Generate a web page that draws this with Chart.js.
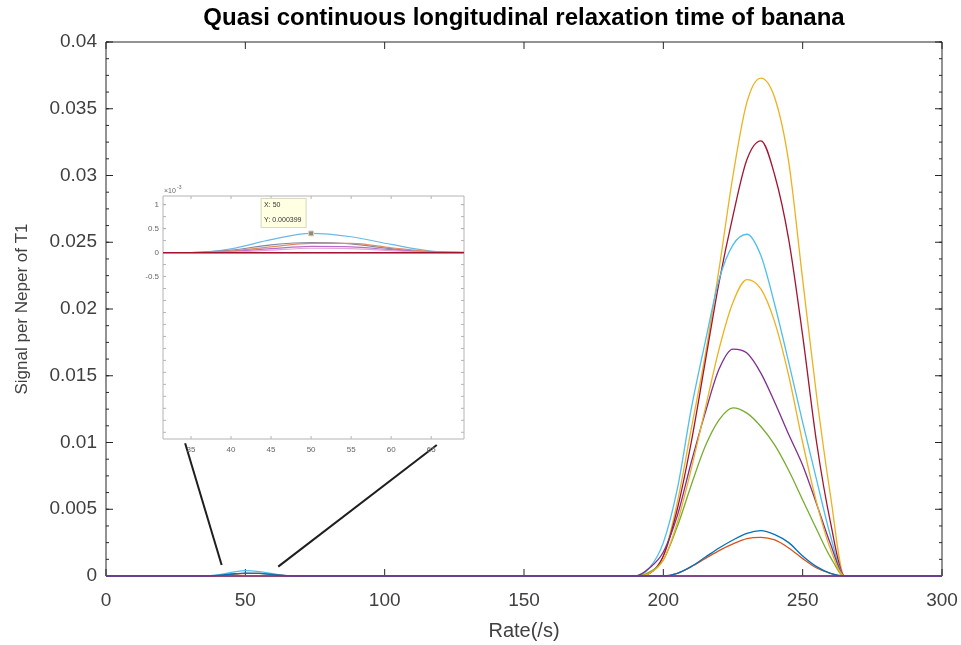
<!DOCTYPE html>
<html>
<head>
<meta charset="utf-8">
<script src="https://cdn.jsdelivr.net/npm/chart.js@4.4.1/dist/chart.umd.min.js"></script>
<style>
  html, body { margin: 0; padding: 0; background: #fff; }
  #wrap { position: relative; width: 961px; height: 645px; }
  #mainChart { position: absolute; left: 0; top: 0; }
  #insetChart { position: absolute; left: 140px; top: 185px; }
</style>
</head>
<body>
<div id="wrap">
  <canvas id="mainChart" width="961" height="645"></canvas>
  <canvas id="insetChart" width="340" height="280"></canvas>
</div>
<script>
/* ====== 主图数据 ====== */
const rateMain = [0, 35, 40, 45, 50, 55, 60, 65, 70, 190, 195, 200, 205, 210, 215, 220, 225, 230, 235, 240, 245, 250, 255, 260, 265, 300];
const sigBlue      = [0, 0, 0.00004, 0.00015, 0.00022, 0.00019, 0.0001, 0.00002, 0, 0, 0, 0, 0.0002, 0.0007, 0.0014, 0.0021, 0.0027, 0.0032, 0.0034, 0.0031, 0.0025, 0.0015, 0.0007, 0.0002, 0, 0];
const sigOrange    = [0, 0, 0.00003, 0.00012, 0.0002, 0.00019, 0.0001, 0.00002, 0, 0, 0, 0, 0.0002, 0.0007, 0.0013, 0.0019, 0.0024, 0.0028, 0.0029, 0.0027, 0.0021, 0.0013, 0.0006, 0.0002, 0, 0];
const sigYellow    = [0, 0, 0, 0, 0, 0, 0, 0, 0, 0, 0.0002, 0.0012, 0.0040, 0.0080, 0.0125, 0.0170, 0.0205, 0.0222, 0.0215, 0.0190, 0.0150, 0.0100, 0.0055, 0.0020, 0, 0];
const sigPurple    = [0, 0, 0, 0, 0, 0, 0, 0, 0, 0, 0.0006, 0.0018, 0.0045, 0.0085, 0.0122, 0.0155, 0.0170, 0.0167, 0.0152, 0.0130, 0.0106, 0.0083, 0.0054, 0.0024, 0, 0];
const sigGreen     = [0, 0, 0, 0, 0, 0, 0, 0, 0, 0, 0.0003, 0.0012, 0.0037, 0.0068, 0.0097, 0.0117, 0.0126, 0.0122, 0.0112, 0.0098, 0.0079, 0.0057, 0.0035, 0.0014, 0, 0];
const sigLightBlue = [0, 0, 0.00008, 0.00027, 0.0004, 0.00033, 0.00017, 0.00003, 0, 0, 0.0006, 0.0025, 0.0065, 0.0125, 0.0175, 0.0222, 0.0248, 0.0256, 0.0240, 0.0203, 0.0160, 0.0115, 0.0072, 0.0030, 0, 0];
const sigDarkRed   = [0, 0, 0, 0, 0, 0, 0, 0, 0, 0, 0.0002, 0.0015, 0.0050, 0.0100, 0.0160, 0.0220, 0.0270, 0.0312, 0.0326, 0.0300, 0.0252, 0.0180, 0.0100, 0.0040, 0, 0];
const sigGold      = [0, 0, 0, 0, 0, 0, 0, 0, 0, 0, 0.0002, 0.0015, 0.0055, 0.0110, 0.0165, 0.0230, 0.0300, 0.0355, 0.0373, 0.0358, 0.0310, 0.0222, 0.0135, 0.0060, 0, 0];
const sigBase      = [0, 0, 0, 0, 0, 0, 0, 0, 0, 0, 0, 0, 0, 0, 0, 0, 0, 0, 0, 0, 0, 0, 0, 0, 0, 0];

// 放大框的两条引线（数据坐标）
const connectorLeft  = [{ x: 41.5, y: 0.00082 }, { x: 28.4, y: 0.00994 }];
const connectorRight = [{ x: 61.8, y: 0.0007 }, { x: 118.7, y: 0.00981 }];

const xTicksMain = [0, 50, 100, 150, 200, 250, 300];

/* ====== 放大图数据 ====== */
const insetRate      = [30, 35, 40, 45, 50, 55, 60, 65, 70];
const insetLightBlue = [0, 0, 0.00008, 0.00027, 0.0004, 0.00033, 0.00017, 0.00003, 0];
const insetSlate     = [0, 0, 0.00005, 0.00016, 0.00021, 0.00018, 0.00008, 0.00001, 0];
const insetSalmon    = [0, 0, 0.00003, 0.00012, 0.00019, 0.00019, 0.0001, 0.00002, 0];
const insetViolet    = [0, 0, 0.00002, 0.00008, 0.00013, 0.00012, 0.00006, 0.00001, 0];
const insetPink      = [0, 0, 0.00001, 0.00005, 0.00009, 0.00008, 0.00004, 0, 0];
const insetRed       = [0, 0, 0, 0, 0, 0, 0, 0, 0];
const insetGold      = [-0.00002, -0.00002, -0.00002, -0.00002, -0.00002, -0.00002, -0.00002, -0.00002, -0.00002];
const insetXTicks = [35, 40, 45, 50, 55, 60, 65];
const insetYTicks = [1, 0.5, 0, -0.5]; // ×10^-3
const tipX = 50, tipY = 0.000399;

const FONT = '"Liberation Sans", Arial, Helvetica, sans-serif';
const pts = (xs, ys) => xs.map((v, i) => ({ x: v, y: ys[i] }));
// 固定坐标轴占位，去掉标签外溢的自动留白
const fixAxis = (size) => (s) => {
  if (s.isHorizontal()) s.height = size; else s.width = size;
  s.paddingLeft = s.paddingRight = s.paddingTop = s.paddingBottom = 0;
};

/* ====== 坐标框 + 内向刻度 ====== */
const boxTicks = {
  id: 'boxTicks',
  beforeDatasetsDraw(chart, args, o) {
    const { ctx, chartArea: a, scales: { x, y } } = chart;
    ctx.save();
    ctx.strokeStyle = o.color;
    ctx.lineWidth = o.width;
    ctx.beginPath();
    const seg = (x1, y1, x2, y2) => { ctx.moveTo(x1, y1); ctx.lineTo(x2, y2); };
    x.ticks.forEach(t => {
      const p = x.getPixelForValue(t.value);
      seg(p, a.bottom, p, a.bottom - o.len);
      seg(p, a.top, p, a.top + o.len);
    });
    y.ticks.forEach(t => {
      const p = y.getPixelForValue(t.value);
      seg(a.left, p, a.left + o.len, p);
      seg(a.right, p, a.right - o.len, p);
    });
    if (o.yMinor) {
      const first = Math.ceil(y.min / o.yMinor - 1e-6);
      const last = Math.floor(y.max / o.yMinor + 1e-6);
      for (let i = first; i <= last; i++) {
        const p = y.getPixelForValue(i * o.yMinor);
        seg(a.left, p, a.left + o.minorLen, p);
        seg(a.right, p, a.right - o.minorLen, p);
      }
    }
    ctx.rect(a.left, a.top, a.right - a.left, a.bottom - a.top);
    ctx.stroke();
    ctx.restore();
  }
};

/* ====== 数据提示框 + 指数标注 ====== */
const insetNotes = {
  id: 'insetNotes',
  afterDatasetsDraw(chart, args, o) {
    const { ctx, chartArea: a, scales: { x, y } } = chart;
    const px = x.getPixelForValue(o.tipX), py = y.getPixelForValue(o.tipY);
    ctx.save();
    ctx.fillStyle = '#ffffe1';
    ctx.strokeStyle = '#d8d8c0';
    ctx.lineWidth = 1;
    ctx.fillRect(px - 50, py - 35, 45, 29);
    ctx.strokeRect(px - 50, py - 35, 45, 29);
    ctx.fillStyle = '#333';
    ctx.font = `7px ${FONT}`;
    ctx.textBaseline = 'middle';
    ctx.fillText(o.lines[0], px - 47, py - 28);
    ctx.fillText(o.lines[1], px - 47, py - 13);
    // ×10^-3
    ctx.fillStyle = '#666';
    ctx.textBaseline = 'alphabetic';
    ctx.font = `7px ${FONT}`;
    ctx.fillText('×10', a.left + 1, a.top - 3);
    ctx.font = `5px ${FONT}`;
    ctx.fillText('-3', a.left + 14, a.top - 7);
    ctx.restore();
  }
};

/* ====== 主图 ====== */
const lineSet = (data, color, order) => ({
  data, borderColor: color, backgroundColor: color, borderWidth: 1.3,
  pointRadius: 0, cubicInterpolationMode: 'monotone', clip: false, order,
});

new Chart(document.getElementById('mainChart'), {
  type: 'line',
  data: {
    datasets: [
      lineSet(pts(rateMain, sigBase), '#7E2F8E', 0),
      lineSet(pts(rateMain, sigBlue), '#0072BD', 1),
      lineSet(pts(rateMain, sigOrange), '#D95319', 2),
      lineSet(pts(rateMain, sigYellow), '#EDB120', 3),
      lineSet(pts(rateMain, sigPurple), '#7E2F8E', 4),
      lineSet(pts(rateMain, sigGreen), '#77AC30', 5),
      lineSet(pts(rateMain, sigLightBlue), '#4DBEEE', 6),
      lineSet(pts(rateMain, sigDarkRed), '#A2142F', 7),
      lineSet(pts(rateMain, sigGold), '#EDB120', 8),
      { data: connectorLeft, borderColor: '#1e1e1e', borderWidth: 2, pointRadius: 0, tension: 0, clip: false, order: -1 },
      { data: connectorRight, borderColor: '#1e1e1e', borderWidth: 2, pointRadius: 0, tension: 0, clip: false, order: -1 },
    ],
  },
  options: {
    responsive: false,
    animation: false,
    layout: { autoPadding: false, padding: { left: 0, right: 19, top: 0, bottom: 0 } },
    plugins: {
      legend: { display: false },
      tooltip: { enabled: false },
      title: {
        display: true,
        fullSize: false,
        text: 'Quasi continuous longitudinal relaxation time of banana',
        color: '#000',
        font: { family: FONT, size: 24, weight: 'bold' },
        padding: { top: 4, bottom: 9.2 },
      },
      boxTicks: { color: '#262626', width: 1, len: 7, yMinor: 0.00125, minorLen: 3 },
    },
    scales: {
      x: {
        type: 'linear', min: 0, max: 300,
        afterBuildTicks: (s) => { s.ticks = xTicksMain.map((v) => ({ value: v })); },
        afterFit: fixAxis(69),
        grid: { display: false, drawTicks: false },
        border: { display: false },
        ticks: { color: '#404040', font: { family: FONT, size: 19 }, padding: 13, maxRotation: 0 },
        title: { display: true, text: 'Rate(/s)', color: '#404040', font: { family: FONT, size: 20 }, padding: { top: 0, bottom: 2 } },
      },
      y: {
        min: 0, max: 0.04,
        afterFit: fixAxis(106),
        grid: { display: false, drawTicks: false },
        border: { display: false },
        ticks: { stepSize: 0.005, color: '#404040', font: { family: FONT, size: 19 }, padding: 9, callback: (v) => String(+v.toFixed(4)) },
        title: { display: true, text: 'Signal per Neper of T1', color: '#404040', font: { family: FONT, size: 17 }, padding: { top: 12, bottom: 0 } },
      },
    },
  },
  plugins: [boxTicks],
});

/* ====== 放大图 ====== */
const thin = (data, color, order) => ({
  data, borderColor: color, backgroundColor: color, borderWidth: 1.2,
  pointRadius: 0, cubicInterpolationMode: 'monotone', order,
});

new Chart(document.getElementById('insetChart'), {
  type: 'line',
  data: {
    datasets: [
      { data: [{ x: tipX, y: tipY }], type: 'scatter', pointStyle: 'rect', pointRadius: 3.5,
        backgroundColor: '#8c8c78', borderColor: '#d8d8c8', borderWidth: 1, order: -1 },
      thin(pts(insetRate, insetRed), '#A2142F', 0),
      thin(pts(insetRate, insetGold), '#EDB120', 1),
      thin(pts(insetRate, insetPink), '#e6a3d8', 2),
      thin(pts(insetRate, insetViolet), '#b86cc8', 3),
      thin(pts(insetRate, insetSalmon), '#e38a60', 4),
      thin(pts(insetRate, insetSlate), '#7f8aa3', 5),
      thin(pts(insetRate, insetLightBlue), '#6cb8e6', 6),
    ],
  },
  options: {
    responsive: false,
    animation: false,
    layout: { autoPadding: false, padding: { left: 0, right: 16, top: 11, bottom: 0 } },
    plugins: {
      legend: { display: false },
      tooltip: { enabled: false },
      boxTicks: { color: '#b4b4b4', width: 1, len: 3, yMinor: 0.00025, minorLen: 3 },
      insetNotes: { tipX, tipY, lines: ['X: 50', 'Y: 0.000399'] },
    },
    scales: {
      x: {
        type: 'linear', min: 31.5, max: 69.1,
        afterBuildTicks: (s) => { s.ticks = insetXTicks.map((v) => ({ value: v })); },
        afterFit: fixAxis(26),
        grid: { display: false, drawTicks: false },
        border: { display: false },
        ticks: { color: '#666', font: { family: FONT, size: 8 }, padding: 6, maxRotation: 0 },
      },
      y: {
        min: -0.00389, max: 0.00118,
        afterBuildTicks: (s) => { s.ticks = insetYTicks.map((v) => ({ value: v / 1000 })); },
        afterFit: fixAxis(23),
        grid: { display: false, drawTicks: false },
        border: { display: false },
        ticks: { color: '#666', font: { family: FONT, size: 8 }, padding: 4, callback: (v) => String(+(v * 1000).toFixed(2)) },
      },
    },
  },
  plugins: [boxTicks, insetNotes],
});
</script>
</body>
</html>
